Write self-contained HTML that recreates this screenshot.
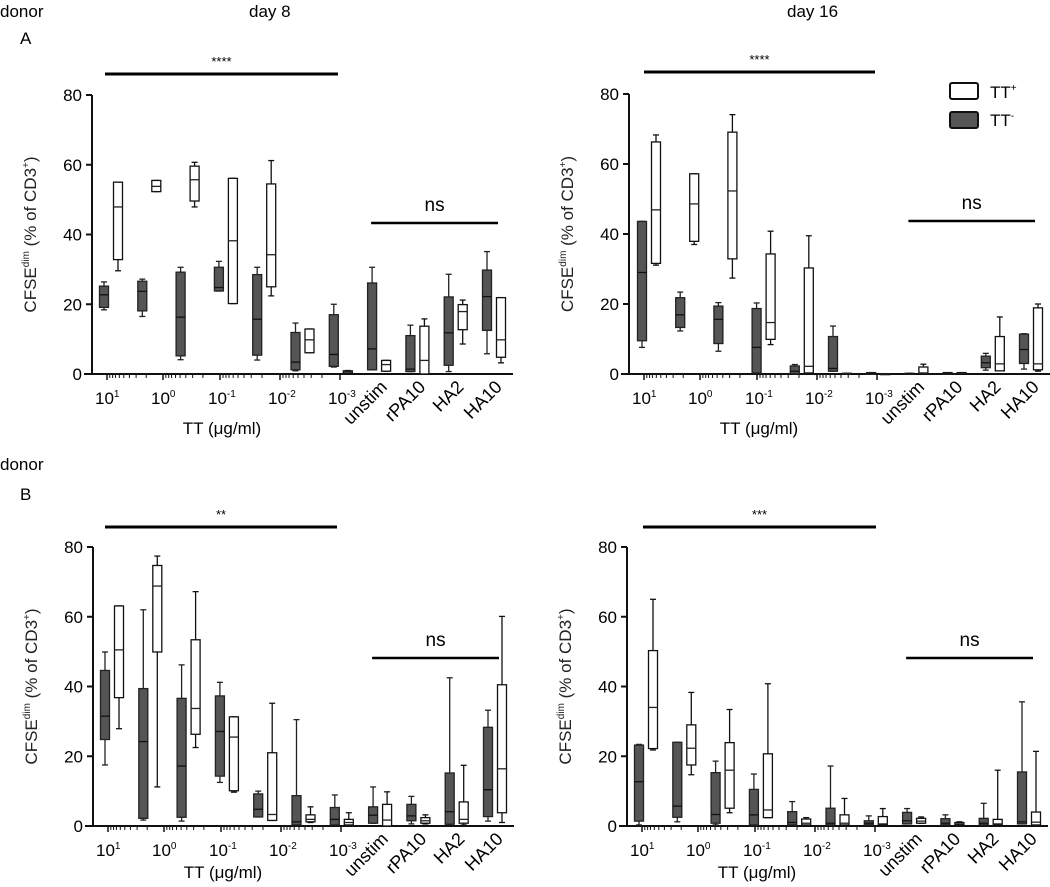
<!DOCTYPE html>
<html><head><meta charset="utf-8"><style>
body{margin:0;background:#fff;}
svg{display:block;font-family:"Liberation Sans",Arial,sans-serif;}
</style></head><body>
<svg id="fig" width="1050" height="887" viewBox="0 0 1050 887">
<text x="0" y="17" font-size="17">donor</text>
<text x="249" y="17" font-size="17">day 8</text>
<text x="787" y="17" font-size="17">day 16</text>
<text x="20" y="44" font-size="17">A</text>
<text x="0" y="470" font-size="17">donor</text>
<text x="20" y="500" font-size="17">B</text>
<g>
<rect x="950" y="83" width="28" height="16" rx="2" fill="#fff" stroke="#111" stroke-width="2"/>
<text x="990" y="98" font-size="17">TT<tspan font-size="10" dy="-7">+</tspan></text>
<rect x="950" y="112" width="28" height="16" rx="2" fill="#555" stroke="#111" stroke-width="2"/>
<text x="990" y="126" font-size="17">TT<tspan font-size="10" dy="-7">-</tspan></text>
</g>
</svg>
<script>
// each box: [low whisker, q1, median, q3, high whisker]
const categories = ["10^1","10^0.5","10^0","10^-0.5","10^-1","10^-1.5","10^-2","unstim","rPA10","HA2","HA10"];
const aDay8Neg = [[18.4,19.1,22.7,25.2,26.4],[16.5,18.1,23.7,26.6,27.2],[4.1,5.2,16.3,29.2,30.6],[23.8,23.8,24.8,30.6,32.3],[4.0,5.4,15.7,28.5,30.6],[0.9,1.2,3.4,11.9,14.6],[2,2.2,5.6,17,20],[1.2,1.2,7.2,26.1,30.6],[0.7,0.7,1.4,11,14],[0.7,2.5,11.8,22.1,28.6],[5.8,12.5,22.2,29.8,35.1]];
const aDay8Pos = [[29.6,32.8,47.9,55,55],[52.3,52.3,53.8,55.5,55.5],[47.9,49.6,55.7,59.6,60.7],[20.2,20.2,38.2,56.1,56.1],[22.4,25,34.2,54.5,61.2],[6.1,6.1,9.8,12.9,12.9],[0.3,0.3,0.7,0.9,1],[0.8,0.8,2.7,3.9,3.9],[0,0,3.9,13.7,15.8],[8.6,12.7,17.9,19.9,21.2],[3.2,4.8,9.8,21.9,21.9]];
const aDay16Neg = [[7.6,9.5,29,43.6,43.6],[12.3,13.3,16.9,21.8,23.4],[6.5,8.7,15.6,19.4,20.4],[0.3,0.3,7.6,18.7,20.3],[0.1,0.1,0.8,2.3,2.7],[0.8,0.8,1.6,10.7,13.7],[0,0,0.2,0.4,0.4],[0,0,0.1,0.2,0.2],[0,0,0.2,0.4,0.4],[1.1,1.8,3.2,5.1,5.9],[1.4,3,7,11.4,11.5]];
const aDay16Pos = [[31.1,31.6,46.9,66.3,68.3],[37,37.9,48.6,57.2,57.2],[27.4,32.9,52.3,69.1,74.1],[8.4,9.9,14.7,34.3,40.8],[0.3,0.3,2.2,30.3,39.5],[0,0,0.1,0.2,0.2],[0,0,0,0.1,0.1],[0.1,0.1,0.3,2,2.8],[0,0,0.2,0.4,0.4],[0.9,0.9,2.9,10.7,16.3],[0.8,1.2,2.9,18.9,20]];
const bDay8Neg = [[17.5,24.8,31.5,44.6,49.9],[1.7,2.2,24.2,39.4,62],[1.4,2.5,17.2,36.6,46.2],[12.5,14.3,27.1,37.3,41.2],[2.6,2.6,4.8,9.2,10],[0.3,0.3,1.2,8.7,30.5],[0.3,0.3,1.9,5.3,8.9],[0.8,0.8,3.1,5.5,11.2],[0.6,1.5,2.9,6.2,8.5],[0.5,0.5,4.1,15.2,42.5],[1.4,2.7,10.4,28.3,33.2]];
const bDay8Pos = [[27.9,36.8,50.5,63.1,63.1],[11.2,49.9,68.8,74.7,77.4],[22.5,26.3,33.7,53.4,67.2],[9.7,10.1,25.5,31.3,31.3],[1.6,1.6,3.3,21,35.2],[1,1.2,1.9,3.2,5.5],[0.3,0.3,1,1.9,3.8],[0,0,1.7,6.2,9.8],[0.6,0.8,1.5,2.4,3.2],[0.3,0.8,1.9,6.9,17.4],[1,3.8,16.4,40.5,60.1]];
const bDay16Neg = [[0.3,1.4,12.7,23.2,23.4],[1.2,2.5,5.7,24,24],[0.3,0.8,3.3,15.3,18.6],[0.3,0.3,3.2,10.5,14.9],[0.3,0.3,1,4.1,7],[0.3,0.3,0.8,5.1,17.2],[0.3,0.3,0.8,1.5,2.9],[0.6,0.6,1.5,3.9,5],[0.3,0.3,0.8,2.1,3.2],[0.3,0.3,0.8,2.2,6.5],[0.6,0.6,1.2,15.5,35.6]];
const bDay16Pos = [[21.8,22.2,34,50.3,65],[14.7,17.5,22.3,29,38.3],[3.8,5.1,16,23.9,33.4],[2.4,2.4,4.6,20.7,40.8],[0.3,0.3,0.8,2,2.4],[0.3,0.3,0.8,3.2,7.9],[0.3,0.3,0.6,2.7,5],[0.8,0.8,1.4,2.2,2.6],[0.3,0.3,0.6,1,1.2],[0.3,0.3,0.6,1.9,16],[0.3,0.3,1.1,4,21.4]];
const yTicks = [0,20,40,60,80];
const decadeLabels = ["1","0","-1","-2","-3"];
const otherLabels = ["unstim","rPA10","HA2","HA10"];
const sigLabels = ["****","****","**","***"];

const NS="http://www.w3.org/2000/svg";
const svg=document.getElementById('fig');
function mk(tag,attrs,parent){const e=document.createElementNS(NS,tag);for(const k in attrs)e.setAttribute(k,attrs[k]);(parent||svg).appendChild(e);return e;}

const panels=[
 {id:'a-day8',ax:92,y0:374,y80:95,first:104,pitch:38.3,neg:aDay8Neg,pos:aDay8Pos,sig:sigLabels[0],sigY:74,sigX1:105,sigX2:338,nsY:223,xlabY:428},
 {id:'a-day16',ax:629,y0:374,y80:94,first:642,pitch:38.2,neg:aDay16Neg,pos:aDay16Pos,sig:sigLabels[1],sigY:72,sigX1:644,sigX2:875,nsY:221,xlabY:428},
 {id:'b-day8',ax:93,y0:826,y80:547,first:105,pitch:38.3,neg:bDay8Neg,pos:bDay8Pos,sig:sigLabels[2],sigY:527,sigX1:105,sigX2:337,nsY:658,xlabY:872},
 {id:'b-day16',ax:627,y0:826,y80:547,first:639,pitch:38.3,neg:bDay16Neg,pos:bDay16Pos,sig:sigLabels[3],sigY:527,sigX1:643,sigX2:876,nsY:658,xlabY:872}
];

panels.forEach(p=>{
 const g=mk('g',{});
 
 
 const y=v=>p.y0-(v/80)*(p.y0-p.y80);
 const xc=i=>p.first+i*p.pitch;
 const right=p.first+10*p.pitch+26;
 const ya=mk('line',{x1:p.ax,y1:p.y80,x2:p.ax,y2:p.y0,stroke:'#111','stroke-width':2},g);
 
 
 yTicks.forEach(t=>{
  mk('line',{x1:p.ax-6,y1:y(t),x2:p.ax,y2:y(t),stroke:'#111','stroke-width':2},g);
  const tl=mk('text',{x:p.ax-10,y:y(t)+6,'font-size':17,'text-anchor':'end'},g);
  tl.textContent=t;
  
  
 });
 const yt=mk('text',{transform:`translate(${p.ax-56},${(p.y0+p.y80)/2}) rotate(-90)`,'font-size':17,'text-anchor':'middle',fill:'#222'},g);
 yt.innerHTML='CFSE<tspan font-size="10" dy="-7">dim</tspan><tspan dy="7"> (% of CD3</tspan><tspan font-size="10" dy="-7">+</tspan><tspan dy="7">)</tspan>';
 
 
 const xa=mk('line',{x1:p.ax-8,y1:p.y0,x2:right,y2:p.y0,stroke:'#111','stroke-width':2},g);
 
 
 const majors=[15,71,128,188,248];
 majors.forEach((m,i)=>{
  const mx=p.ax+m;
  mk('line',{x1:mx,y1:p.y0,x2:mx,y2:p.y0+6,stroke:'#111','stroke-width':1.5},g);
  if(i<4){[0.3,0.48,0.6,0.7,0.78,0.85,0.9,0.95].forEach(f=>{const nx=mx+(majors[i+1]-m)*(1-f);mk('line',{x1:nx,y1:p.y0,x2:nx,y2:p.y0+4,stroke:'#111','stroke-width':1},g);});}
  const dl=mk('text',{x:mx-12,y:p.y0+30,'font-size':17},g);
  dl.innerHTML='10<tspan font-size="10" dy="-7">'+decadeLabels[i]+'</tspan>';
  
  
 });
 otherLabels.forEach((l,j)=>{
  const cx=xc(7+j)+16;
  const ol=mk('text',{transform:`translate(${cx},${p.y0+14}) rotate(-45)`,'font-size':18,'text-anchor':'end'},g);
  ol.textContent=l;
  
  
 });
 const xt=mk('text',{x:p.ax+130,y:p.xlabY+6,'font-size':17,'text-anchor':'middle'},g);
 xt.textContent='TT (\u03bcg/ml)';
 
 
 function box(d,cx,dark){
  const w=9;
  const bg=mk('g',{},g);
  
  
  const st=dark?'#222':'#111';
  mk('line',{x1:cx,y1:y(d[4]),x2:cx,y2:y(d[3]),stroke:st,'stroke-width':1.3},bg);
  mk('line',{x1:cx,y1:y(d[1]),x2:cx,y2:y(d[0]),stroke:st,'stroke-width':1.3},bg);
  mk('line',{x1:cx-3,y1:y(d[4]),x2:cx+3,y2:y(d[4]),stroke:st,'stroke-width':1.3},bg);
  mk('line',{x1:cx-3,y1:y(d[0]),x2:cx+3,y2:y(d[0]),stroke:st,'stroke-width':1.3},bg);
  mk('rect',{x:cx-w/2,y:y(d[3]),width:w,height:Math.max(1,y(d[1])-y(d[3])),fill:dark?'#555':'#fff',stroke:st,'stroke-width':1.3},bg);
  mk('line',{x1:cx-w/2,y1:y(d[2]),x2:cx+w/2,y2:y(d[2]),stroke:dark?'#111':'#222','stroke-width':1.3},bg);
 }
 categories.forEach((c,i)=>{box(p.neg[i],xc(i),true);box(p.pos[i],xc(i)+14,false);});
 const sl=mk('line',{x1:p.sigX1,y1:p.sigY,x2:p.sigX2,y2:p.sigY,stroke:'#000','stroke-width':3},g);
 
 
 const stx=mk('text',{x:(p.sigX1+p.sigX2)/2,y:p.sigY-8,'font-size':13,'text-anchor':'middle'},g);
 stx.textContent=p.sig;
 
 
 const n1=xc(7)-1,n2=xc(10)+11;
 const nl=mk('line',{x1:n1,y1:p.nsY,x2:n2,y2:p.nsY,stroke:'#000','stroke-width':2.5},g);
 
 
 const nt=mk('text',{x:(n1+n2)/2,y:p.nsY-12,'font-size':19,'text-anchor':'middle'},g);
 nt.textContent='ns';
 
 
});
</script>
</body></html>
